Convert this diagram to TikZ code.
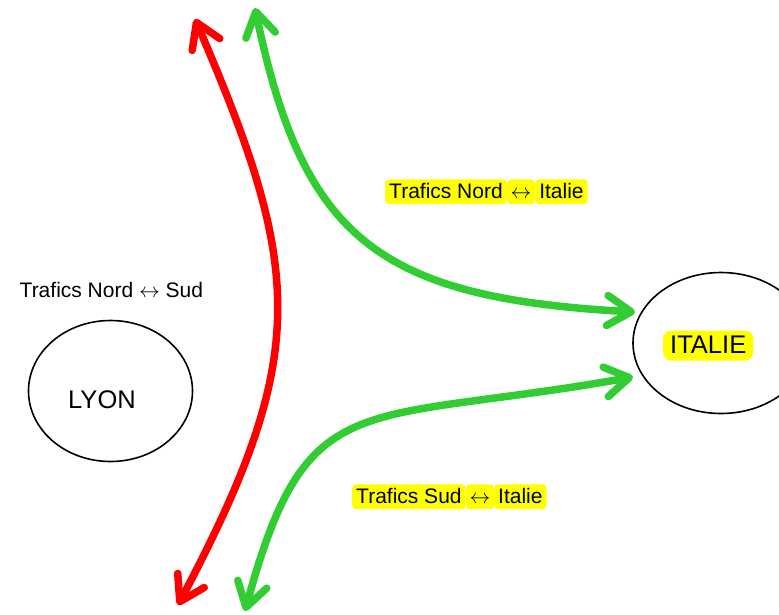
\documentclass[tikz,border=0pt]{standalone}
\usepackage{fontspec}
\setmainfont{Liberation Sans}
\usetikzlibrary{arrows.meta,shapes.geometric}
\definecolor{grn}{RGB}{50,205,50}
\definecolor{hly}{RGB}{255,255,0}
\newcommand{\lrarr}{$\leftrightarrow$}
\begin{document}
\begin{tikzpicture}[x=1pt,y=-1pt,
  flow/.style={line width=7.5pt,
    {Straight Barb[length=24pt,width=30pt,round]}-{Straight Barb[length=24pt,width=30pt,round]}},
  town/.style={draw, line width=1.6pt, ellipse, inner sep=0pt},
  lbl/.style={font=\fontsize{21}{25}\selectfont, inner sep=0pt},
  hl/.style={lbl, fill=hly, rounded corners=4pt, inner xsep=4pt, inner ysep=1.2pt,
    text height=17.5pt, text depth=5pt},
  big/.style={font=\fontsize{25.5}{30}\selectfont, inner sep=0pt}]
\useasboundingbox (0,0) rectangle (779,614);
\clip (0,0) rectangle (779,614);
% towns
\node[town, minimum width=164pt, minimum height=141pt] (lyon) at (110.5,391) {};
\node[town, minimum width=176pt, minimum height=141pt] (italie) at (721,343) {};
\node[big, anchor=base west] (lyontxt) at (68,408) {LYON};
\node[big, anchor=base west, fill=hly, rounded corners=8pt, inner xsep=7pt, inner ysep=1.5pt,
  text height=21pt, text depth=6pt] (italietxt) at (663,353) {ITALIE};
% arrow end points
\coordinate (rtop) at (195,19);
\coordinate (rbot) at (178,605);
\coordinate (gtop) at (255,8);
\coordinate (gbot) at (245,611);
\coordinate (inord) at (635,312);
\coordinate (isud) at (633,377);
% connectors
\draw[flow, red] (rtop) .. controls (303,270) and (311,354) .. (rbot);
\draw[flow, grn] (gtop) .. controls (303,240) and (380,298) .. (inord);
\draw[flow, grn] (gbot) .. controls (307,382) and (357,426) .. (isud);
% labels
\node[lbl, anchor=base west] (ns) at (19.5,297) {Trafics Nord \lrarr{} Sud};
\node[hl, anchor=base west] (ni1) at (385,198) {Trafics Nord};
\node[hl, anchor=base west, inner xsep=3.5pt] (ni2) at (ni1.base east) {\lrarr};
\node[hl, anchor=base west] (ni3) at (ni2.base east) {Italie};
\node[hl, anchor=base west] (si1) at (352,503) {Trafics Sud};
\node[hl, anchor=base west, inner xsep=3.5pt] (si2) at (si1.base east) {\lrarr};
\node[hl, anchor=base west] (si3) at (si2.base east) {Italie};
\end{tikzpicture}
\end{document}
